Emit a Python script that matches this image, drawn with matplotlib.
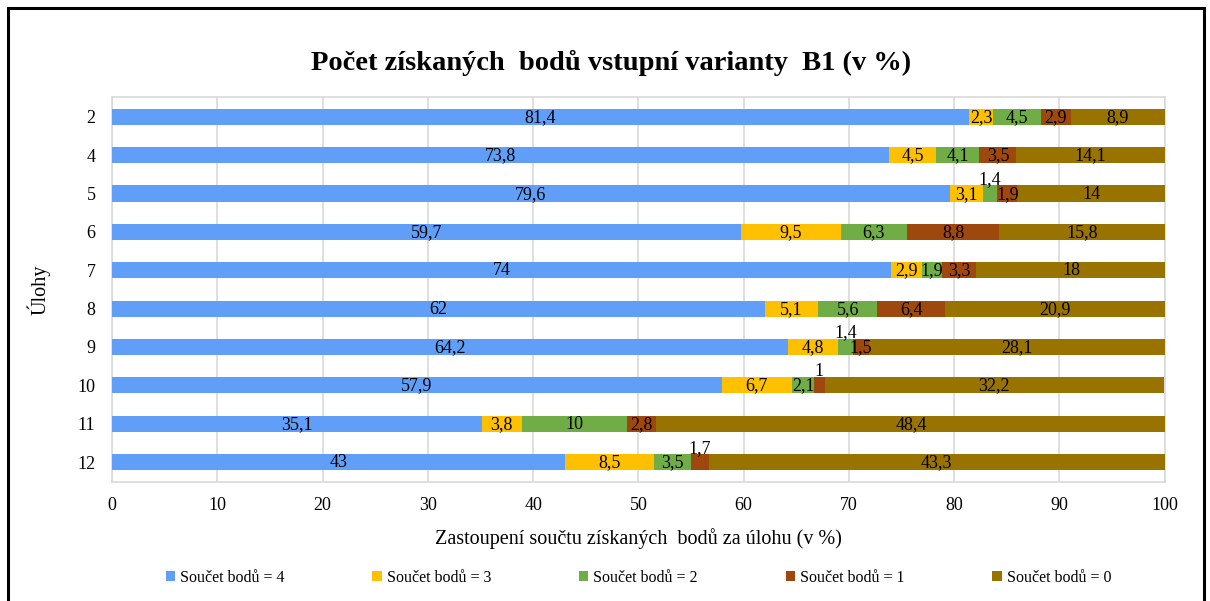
import numpy as np
import matplotlib.pyplot as plt
from matplotlib.patches import Rectangle

plt.rcParams['font.family'] = ['Liberation Serif', 'DejaVu Serif']

# Data (v %)
ulohy = ['2', '4', '5', '6', '7', '8', '9', '10', '11', '12']
body4 = [81.4, 73.8, 79.6, 59.7, 74, 62, 64.2, 57.9, 35.1, 43]
body3 = [2.3, 4.5, 3.1, 9.5, 2.9, 5.1, 4.8, 6.7, 3.8, 8.5]
body2 = [4.5, 4.1, 1.4, 6.3, 1.9, 5.6, 1.4, 2.1, 10, 3.5]
body1 = [2.9, 3.5, 1.9, 8.8, 3.3, 6.4, 1.5, 1, 2.8, 1.7]
body0 = [8.9, 14.1, 14, 15.8, 18, 20.9, 28.1, 32.2, 48.4, 43.3]
series_labels = ['Součet bodů = 4', 'Součet bodů = 3', 'Součet bodů = 2',
                 'Součet bodů = 1', 'Součet bodů = 0']
colors = ['#619EF8', '#FFC000', '#70AD47', '#9E480E', '#997300']

# labels drawn above the bar: (row, series index)
above = {(2, 2), (6, 2), (7, 3), (9, 3)}

fig = plt.figure(figsize=(12.10, 6.01), dpi=100)
ax = fig.add_axes([0.0926, 0.198, 0.870, 0.641])

y = np.arange(len(ulohy))
series = [body4, body3, body2, body1, body0]
left = np.zeros(len(ulohy))
for s, (vals, col, lab) in enumerate(zip(series, colors, series_labels)):
    vals = np.array(vals)
    ax.barh(y, vals, left=left, height=0.42, color=col, label=lab, zorder=3)
    for i, v in enumerate(vals):
        txt = f'{v:g}'.replace('.', ',')
        cx = left[i] + v / 2
        if (i, s) in above:
            ax.text(cx, y[i] - 0.14, txt, ha='center', va='bottom', fontsize=13, zorder=4)
        else:
            ax.text(cx, y[i] + 0.02, txt, ha='center', va='center', fontsize=13, zorder=4)
    left += vals

ax.set_xlim(0, 100)
ax.set_ylim(9.52, -0.52)
ax.set_yticks(y)
ax.set_yticklabels(ulohy)
ax.set_xticks(np.arange(0, 101, 10))
ax.tick_params(length=0, labelsize=13, pad=11)
ax.tick_params(axis='y', pad=12)
ax.grid(axis='x', color='#D9D9D9', linewidth=1.2, zorder=0)
for sp in ax.spines.values():
    sp.set_color('#D9D9D9')
    sp.set_linewidth(1.2)

ax.set_xlabel('Zastoupení součtu získaných  bodů za úlohu (v %)', fontsize=14.5, labelpad=10)
ax.set_ylabel('Úlohy', fontsize=14.5, labelpad=19)
fig.text(0.505, 0.895, 'Počet získaných  bodů vstupní varianty  B1 (v %)',
         ha='center', va='center', fontsize=20.5, fontweight='bold')

ax.legend(loc='upper center', bbox_to_anchor=(0.5, -0.19), ncol=5, frameon=False,
          fontsize=11.5, handlelength=0.6, handleheight=0.6, columnspacing=5.5,
          handletextpad=0.3)

# outer frame
fig.patches.append(Rectangle((0.007, -0.05), 0.988, 1.037, transform=fig.transFigure,
                             fill=False, edgecolor='black', linewidth=2.2))

fig.savefig('out.png', dpi=100)
